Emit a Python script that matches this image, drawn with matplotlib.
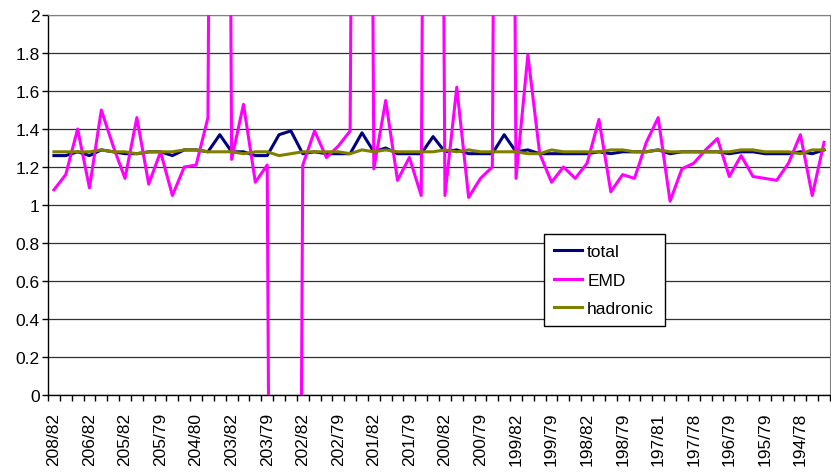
import numpy as np
import matplotlib
matplotlib.use("Agg")
import matplotlib.pyplot as plt
from matplotlib.ticker import FormatStrFormatter

plt.rcParams["font.family"] = ["Liberation Sans", "DejaVu Sans"]

# one label every third run on the category axis
RUN_LABELS = ["208/82", "206/82", "205/82", "205/79", "204/80", "203/82",
              "203/79", "202/82", "202/79", "201/82", "201/79", "200/82",
              "200/79", "199/82", "199/79", "198/82", "198/79", "197/81",
              "197/78", "196/79", "195/79", "194/78"]
N_RUNS = 66

total = [1.26, 1.26, 1.28, 1.26, 1.29, 1.28, 1.27, 1.27, 1.28, 1.28, 1.26,
         1.29, 1.29, 1.28, 1.37, 1.28, 1.28, 1.26, 1.26, 1.37, 1.39, 1.27,
         1.28, 1.27, 1.27, 1.27, 1.38, 1.28, 1.30, 1.27, 1.27, 1.27, 1.36,
         1.28, 1.29, 1.27, 1.27, 1.27, 1.37, 1.28, 1.29, 1.27, 1.27, 1.27,
         1.27, 1.27, 1.28, 1.27, 1.28, 1.28, 1.28, 1.29, 1.27, 1.28, 1.28,
         1.28, 1.28, 1.27, 1.28, 1.28, 1.27, 1.27, 1.27, 1.28, 1.27, 1.29]

# EMD ratio runs off the scale on a handful of runs
emd = [1.08, 1.16, 1.40, 1.09, 1.50, 1.31, 1.14, 1.46, 1.11, 1.28, 1.05,
       1.20, 1.21, 1.46, 12.0, 1.24, 1.53, 1.12, 1.21, -10.0, -10.0, 1.21,
       1.39, 1.25, 1.31, 1.39, 12.0, 1.19, 1.55, 1.13, 1.25, 1.05, 12.0,
       1.05, 1.62, 1.04, 1.14, 1.20, 12.0, 1.14, 1.79, 1.27, 1.12, 1.20,
       1.14, 1.22, 1.45, 1.07, 1.16, 1.14, 1.33, 1.46, 1.02, 1.19, 1.22,
       1.29, 1.35, 1.15, 1.26, 1.15, 1.14, 1.13, 1.22, 1.37, 1.05, 1.33]

hadronic = [1.28, 1.28, 1.28, 1.28, 1.29, 1.28, 1.28, 1.27, 1.28, 1.28, 1.28,
            1.29, 1.29, 1.28, 1.28, 1.28, 1.27, 1.28, 1.28, 1.26, 1.27, 1.28,
            1.28, 1.28, 1.28, 1.27, 1.29, 1.28, 1.29, 1.28, 1.28, 1.28, 1.28,
            1.29, 1.28, 1.29, 1.28, 1.28, 1.28, 1.28, 1.27, 1.27, 1.29, 1.28,
            1.28, 1.28, 1.28, 1.29, 1.29, 1.28, 1.28, 1.29, 1.28, 1.28, 1.28,
            1.28, 1.28, 1.28, 1.29, 1.29, 1.28, 1.28, 1.28, 1.27, 1.29, 1.29]

x = np.arange(N_RUNS)

fig = plt.figure(figsize=(8.31, 4.77), dpi=100)
ax = fig.add_axes([48 / 831, 1 - 396 / 477, 782 / 831, 380 / 477])

ax.plot(x, total, color="#000080", lw=2.2, label="total", zorder=3)
ax.plot(x, emd, color="#FF00FF", lw=2.2, label="EMD", zorder=3)
ax.plot(x, hadronic, color="#808000", lw=2.2, label="hadronic", zorder=3)

ax.set_xlim(-0.5, N_RUNS - 0.5)
ax.set_ylim(0, 2)
ax.set_yticks(np.arange(0, 2.01, 0.2))
ax.yaxis.set_major_formatter(FormatStrFormatter("%g"))
ax.yaxis.grid(True, color="#303030", lw=0.9)
ax.set_axisbelow(True)
ax.tick_params(axis="y", direction="out", length=4, width=1, pad=2,
               labelsize=12.5)

ax.set_xticks(np.arange(0, N_RUNS, 3))
ax.set_xticklabels(RUN_LABELS, rotation=90, fontsize=12.5)
ax.set_xticks(np.arange(-0.5, N_RUNS, 1), minor=True)
ax.tick_params(axis="x", which="major", length=0, pad=12)
ax.tick_params(axis="x", which="minor", direction="out", length=4, width=1)

for side in ("top", "right"):
    ax.spines[side].set_color("#808080")
for side in ("left", "bottom"):
    ax.spines[side].set_color("black")
    ax.spines[side].set_linewidth(1)

leg = ax.legend(loc="upper left", bbox_to_anchor=(0.634, 0.424),
                fontsize=12.5, frameon=True, fancybox=False, shadow=False,
                edgecolor="black", framealpha=1, borderaxespad=0,
                handlelength=1.6, handletextpad=0.3, labelspacing=0.75,
                borderpad=0.6)
leg.get_frame().set_linewidth(1)

fig.savefig("out.png", dpi=100)
